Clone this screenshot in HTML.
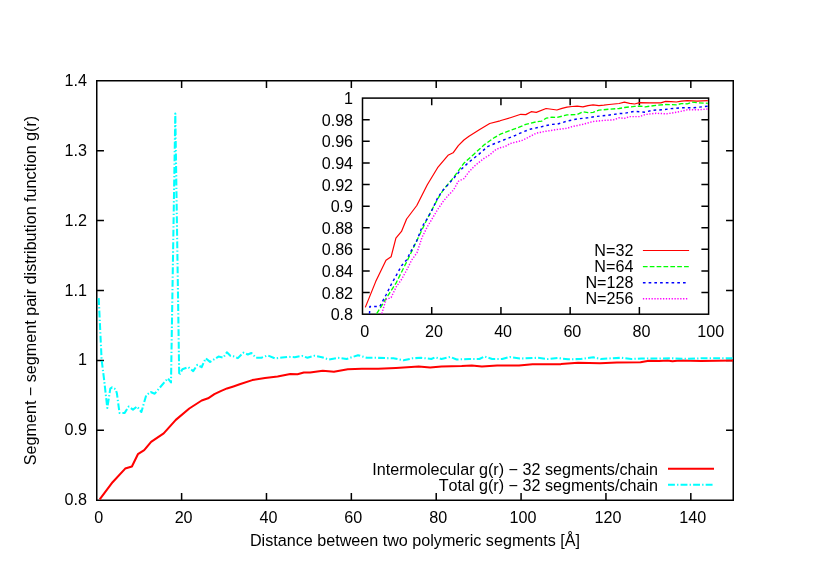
<!DOCTYPE html>
<html><head><meta charset="utf-8"><title>g(r)</title>
<style>
html,body{margin:0;padding:0;background:#fff;}
body{width:830px;height:581px;overflow:hidden;}
svg{display:block;}
text{font-kerning:none;font-family:"Liberation Sans",sans-serif;font-size:16.15px;fill:#000;}
.ax{stroke:#000;stroke-width:1.5;fill:none;}
.c{fill:none;stroke-linejoin:round;stroke-linecap:butt;}
</style></head><body>
<svg style="will-change:transform" width="830" height="581" viewBox="0 0 830 581">
<rect x="0" y="0" width="830" height="581" fill="#fff"/>

<g class="ax">
<path d="M181.62 500.25 v-7.2 M181.62 80.75 v7.2"/>
<path d="M266.48 500.25 v-7.2 M266.48 80.75 v7.2"/>
<path d="M351.35 500.25 v-7.2 M351.35 80.75 v7.2"/>
<path d="M436.22 500.25 v-7.2 M436.22 80.75 v7.2"/>
<path d="M521.08 500.25 v-7.2 M521.08 80.75 v7.2"/>
<path d="M605.95 500.25 v-7.2 M605.95 80.75 v7.2"/>
<path d="M690.82 500.25 v-7.2 M690.82 80.75 v7.2"/>
<path d="M96.75 430.33 h7.2 M733.25 430.33 h-7.2"/>
<path d="M96.75 360.42 h7.2 M733.25 360.42 h-7.2"/>
<path d="M96.75 290.50 h7.2 M733.25 290.50 h-7.2"/>
<path d="M96.75 220.58 h7.2 M733.25 220.58 h-7.2"/>
<path d="M96.75 150.67 h7.2 M733.25 150.67 h-7.2"/>
<rect x="96.75" y="80.75" width="636.5" height="419.5"/>
</g>
<text x="98.75" y="523.1" text-anchor="middle">0</text>
<text x="183.62" y="523.1" text-anchor="middle">20</text>
<text x="268.48" y="523.1" text-anchor="middle">40</text>
<text x="353.35" y="523.1" text-anchor="middle">60</text>
<text x="438.22" y="523.1" text-anchor="middle">80</text>
<text x="523.08" y="523.1" text-anchor="middle">100</text>
<text x="607.95" y="523.1" text-anchor="middle">120</text>
<text x="692.82" y="523.1" text-anchor="middle">140</text>
<text x="86.9" y="505.25" text-anchor="end">0.8</text>
<text x="86.9" y="435.33" text-anchor="end">0.9</text>
<text x="86.9" y="365.42" text-anchor="end">1</text>
<text x="86.9" y="295.50" text-anchor="end">1.1</text>
<text x="86.9" y="225.58" text-anchor="end">1.2</text>
<text x="86.9" y="155.67" text-anchor="end">1.3</text>
<text x="86.9" y="85.75" text-anchor="end">1.4</text>
<text x="415.00" y="546.2" text-anchor="middle">Distance between two polymeric segments [Å]</text>
<text transform="translate(36.2,290.50) rotate(-90)" text-anchor="middle">Segment − segment pair distribution function g(r)</text>
<polyline class="c" stroke="#ff0000" stroke-width="2.05" points="99.7,499.4 112.6,482.2 125.2,468.6 131.9,466.5 137.9,454.2 144.2,450.2 151.1,441.9 163.7,433.4 175.8,419.9 189.3,408.5 201.7,400.5 208.1,398.3 214.4,394.2 220.7,391.1 227.0,388.4 233.4,386.4 239.7,384.3 252.3,380.1 265.0,377.9 277.6,376.5 290.3,374.0 297.5,374.3 303.8,372.5 310.1,372.5 322.8,370.7 333.9,371.7 347.8,369.2 361.8,368.7 378.2,368.7 395.9,367.9 418.7,366.4 430.1,367.4 441.5,366.4 461.7,366.1 471.8,365.6 481.9,366.4 497.1,365.4 519.0,365.6 532.5,364.2 561.0,364.1 578.0,362.8 600.0,363.2 616.9,362.4 640.5,362.2 648.9,360.8 659.0,361.0 667.5,360.6 672.5,361.3 679.3,360.6 701.2,360.9 733.0,360.5"/>
<polyline class="c" stroke="#00ffff" stroke-width="2.05" stroke-dasharray="6.9 2.15 1.35 2.15" points="98.7,298.1 101.6,359.5 104.0,378.8 107.3,408.0 110.3,388.6 112.1,387.3 115.7,389.2 116.9,393.4 119.5,412.9 124.7,412.9 128.6,406.5 133.0,409.6 137.1,406.5 141.4,412.0 146.2,395.2 150.6,392.0 154.7,393.7 164.3,382.4 167.9,378.3 171.0,382.4 175.3,113.5 179.2,375.2 182.4,369.2 188.4,367.2 193.2,371.1 197.3,364.8 201.6,367.2 205.7,358.3 210.1,361.9 218.5,356.6 223.3,357.6 226.9,352.3 230.6,355.9 233.4,356.3 237.9,358.1 243.3,352.6 247.8,354.5 251.4,353.0 255.9,357.7 261.4,357.7 267.7,355.4 274.9,358.4 282.1,357.5 288.4,356.8 294.8,357.2 302.0,355.9 307.4,357.7 314.6,355.7 321.9,357.2 328.9,359.5 337.7,357.8 346.6,359.0 358.0,355.2 366.8,357.8 375.7,357.8 393.4,358.3 403.5,360.3 412.4,358.3 421.2,357.8 431.3,359.0 435.1,357.3 441.5,359.0 450.3,357.0 456.6,359.5 469.3,359.0 479.4,359.0 484.5,356.5 492.1,359.0 502.2,359.0 509.8,357.0 519.9,358.5 537.7,357.8 547.8,359.0 557.9,358.0 568.0,359.3 580.7,359.0 593.3,357.3 600.9,359.0 611.0,358.3 621.2,357.8 631.3,359.0 641.4,358.5 656.6,358.5 671.8,358.3 686.9,358.8 702.1,358.3 733.0,358.3"/>
<text x="658" y="474.5" text-anchor="end">Intermolecular g(r) − 32 segments/chain</text>
<text x="658" y="490.7" text-anchor="end">Total g(r) − 32 segments/chain</text>
<path class="c" stroke="#ff0000" stroke-width="2.05" d="M668 468.8 H714"/>
<path class="c" stroke="#00ffff" stroke-width="2.05" stroke-dasharray="6.9 2.15 1.35 2.15" d="M668 484.8 H713"/>
<rect x="362.5" y="98.1" width="346.1" height="216.1" fill="#fff"/>
<g class="ax">
<path d="M431.72 314.2 v-7.2 M431.72 98.1 v7.2"/>
<path d="M500.94 314.2 v-7.2 M500.94 98.1 v7.2"/>
<path d="M570.16 314.2 v-7.2 M570.16 98.1 v7.2"/>
<path d="M639.38 314.2 v-7.2 M639.38 98.1 v7.2"/>
<path d="M362.5 292.59 h7.2 M708.6 292.59 h-7.2"/>
<path d="M362.5 270.98 h7.2 M708.6 270.98 h-7.2"/>
<path d="M362.5 249.37 h7.2 M708.6 249.37 h-7.2"/>
<path d="M362.5 227.76 h7.2 M708.6 227.76 h-7.2"/>
<path d="M362.5 206.15 h7.2 M708.6 206.15 h-7.2"/>
<path d="M362.5 184.54 h7.2 M708.6 184.54 h-7.2"/>
<path d="M362.5 162.93 h7.2 M708.6 162.93 h-7.2"/>
<path d="M362.5 141.32 h7.2 M708.6 141.32 h-7.2"/>
<path d="M362.5 119.71 h7.2 M708.6 119.71 h-7.2"/>
<rect x="362.5" y="98.1" width="346.1" height="216.1"/>
</g>
<text x="364.70" y="336.7" text-anchor="middle">0</text>
<text x="433.92" y="336.7" text-anchor="middle">20</text>
<text x="503.14" y="336.7" text-anchor="middle">40</text>
<text x="572.36" y="336.7" text-anchor="middle">60</text>
<text x="641.58" y="336.7" text-anchor="middle">80</text>
<text x="710.80" y="336.7" text-anchor="middle">100</text>
<text x="353.1" y="320.30" text-anchor="end">0.8</text>
<text x="353.1" y="298.69" text-anchor="end">0.82</text>
<text x="353.1" y="277.08" text-anchor="end">0.84</text>
<text x="353.1" y="255.47" text-anchor="end">0.86</text>
<text x="353.1" y="233.86" text-anchor="end">0.88</text>
<text x="353.1" y="212.25" text-anchor="end">0.9</text>
<text x="353.1" y="190.64" text-anchor="end">0.92</text>
<text x="353.1" y="169.03" text-anchor="end">0.94</text>
<text x="353.1" y="147.42" text-anchor="end">0.96</text>
<text x="353.1" y="125.81" text-anchor="end">0.98</text>
<text x="353.1" y="104.20" text-anchor="end">1</text>
<polyline class="c" stroke="#ff0000" stroke-width="1.2" points="365.3,307.4 375.7,281.6 386.0,260.3 391.1,256.8 395.9,238.2 401.5,231.4 406.6,219.0 416.8,205.5 427.3,184.8 437.6,167.7 448.0,155.3 453.1,152.8 458.3,145.6 463.9,140.0 469.0,136.3 479.3,129.7 489.7,123.5 500.0,120.8 510.3,117.7 520.8,114.3 525.8,114.6 531.2,111.7 536.3,112.4 546.1,108.5 556.9,110.0 562.0,108.4 567.0,107.1 572.1,106.5 577.2,106.2 582.9,106.8 588.0,105.6 593.1,104.9 598.9,105.6 603.9,105.2 609.0,104.5 619.1,103.5 624.4,102.2 629.7,103.3 634.6,104.0 639.7,102.7 649.9,102.9 660.8,102.9 665.6,101.4 671.0,101.7 676.4,102.0 681.3,101.1 687.3,100.7 696.9,101.1 707.8,100.7"/>
<polyline class="c" stroke="#00ff00" stroke-width="1.35" stroke-dasharray="4.7 2.16" points="376.7,313.6 386.0,298.7 396.3,282.6 406.6,262.0 417.0,240.3 427.3,218.6 438.0,198.3 443.2,190.0 453.5,177.6 463.9,163.2 474.2,153.9 484.5,144.6 494.8,137.3 501.0,133.8 510.3,130.5 518.6,127.4 525.8,124.3 536.3,121.8 541.7,121.1 546.1,118.2 551.9,117.2 556.9,117.5 567.0,114.9 577.2,114.6 582.9,111.7 588.0,112.7 593.1,112.4 598.9,110.2 609.0,109.2 619.1,108.5 624.6,107.5 634.6,106.4 640.9,106.2 645.1,106.8 656.0,105.4 665.6,104.5 676.4,104.8 681.3,103.6 687.3,103.8 692.1,102.2 698.1,102.8 707.8,103.3"/>
<polyline class="c" stroke="#0000ff" stroke-width="1.45" stroke-dasharray="2.65 3.08" points="369.5,313.6 369.9,306.4 379.8,306.4 386.0,295.0 391.1,284.7 396.3,275.4 401.5,265.7 406.6,259.9 411.8,249.6 417.0,240.3 422.1,226.8 427.3,218.6 432.4,209.3 438.0,197.2 443.2,190.0 453.5,178.6 460.8,169.8 469.0,162.1 479.3,153.9 487.6,146.6 494.8,143.5 505.2,139.4 515.5,135.3 523.7,131.6 530.9,129.0 541.0,126.9 551.1,124.4 556.9,124.3 567.0,121.1 577.2,118.9 587.3,117.9 596.0,116.5 607.5,115.3 619.1,113.6 624.6,113.3 634.6,111.3 645.1,112.2 652.3,110.2 663.2,109.8 671.0,108.6 681.3,107.8 692.1,107.8 701.7,106.9 707.8,106.2"/>
<polyline class="c" stroke="#ff00ff" stroke-width="1.45" stroke-dasharray="1.3 1.57" points="381.8,313.6 386.0,299.6 391.1,297.6 396.3,286.7 401.5,279.5 406.6,270.2 411.8,259.9 417.0,252.7 422.1,237.2 427.3,226.8 437.6,209.6 443.2,201.4 448.4,195.2 453.5,190.0 458.3,181.3 463.9,178.6 469.0,171.8 474.2,166.3 479.3,162.1 484.5,158.0 489.7,154.9 494.8,150.3 500.0,147.7 505.2,146.6 510.3,143.5 515.5,142.1 520.8,140.9 525.8,138.7 536.3,133.1 546.1,131.2 556.9,129.5 567.0,128.3 572.1,126.6 582.9,124.3 593.1,121.5 603.9,120.4 613.3,119.9 619.2,117.8 624.4,118.4 629.6,116.6 639.7,116.6 645.1,114.5 656.0,113.3 666.8,113.8 676.4,112.2 682.5,111.0 687.3,109.8 698.1,109.8 707.8,109.0"/>
<text x="633.4" y="255.60" text-anchor="end">N=32</text>
<path class="c" stroke="#ff0000" stroke-width="1.2" d="M642.9 250.50 H689.1"/>
<text x="633.4" y="271.70" text-anchor="end">N=64</text>
<path class="c" stroke="#00ff00" stroke-width="1.35" stroke-dasharray="4.7 2.16" d="M642.9 266.60 H689.1"/>
<text x="633.4" y="287.80" text-anchor="end">N=128</text>
<path class="c" stroke="#0000ff" stroke-width="1.45" stroke-dasharray="2.65 3.08" d="M642.9 282.70 H688.6"/>
<text x="633.4" y="303.90" text-anchor="end">N=256</text>
<path class="c" stroke="#ff00ff" stroke-width="1.45" stroke-dasharray="1.3 1.57" d="M642.9 298.80 H688.0"/>
</svg></body></html>
